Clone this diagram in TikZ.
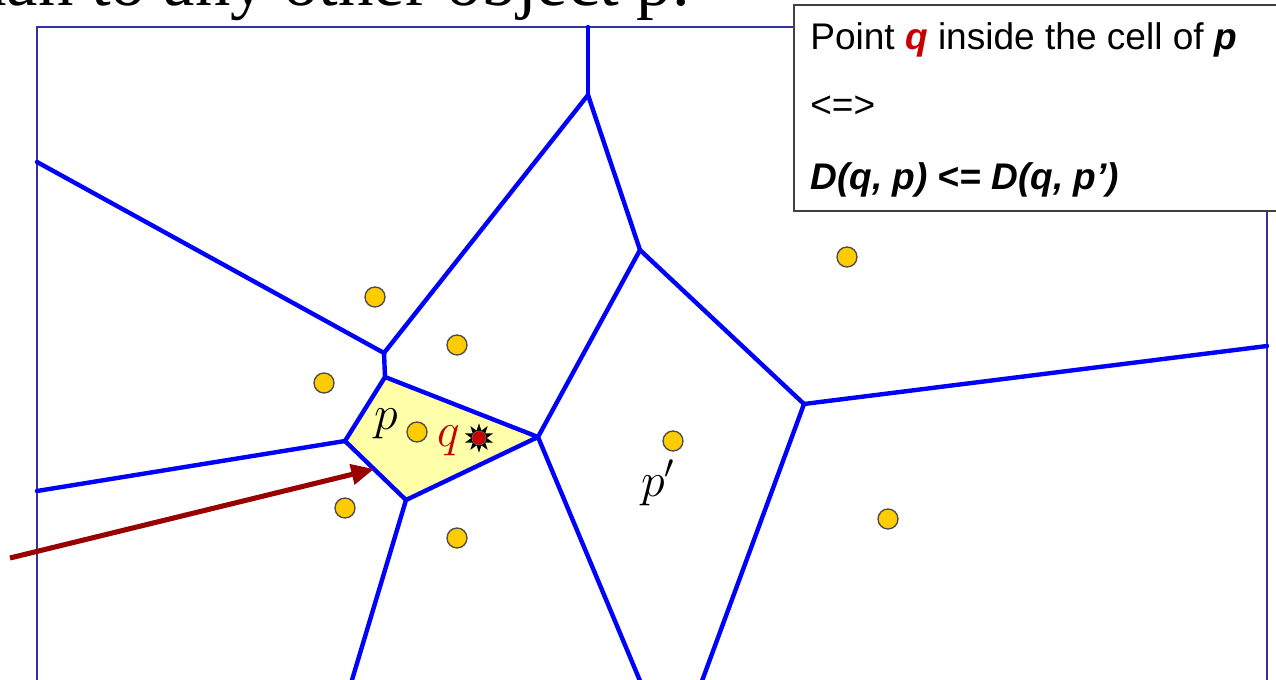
\RequirePackage{fix-cm}
\documentclass[tikz,border=0pt]{standalone}
\usepackage{fontspec}
\setmainfont{Liberation Serif}
\newfontfamily\arialfam{Liberation Sans}
\usetikzlibrary{shapes.geometric,arrows.meta}
\definecolor{vblue}{RGB}{0,0,255}
\definecolor{framecol}{RGB}{51,51,153}
\definecolor{cellyel}{RGB}{255,255,170}
\definecolor{sitefill}{RGB}{255,204,0}
\definecolor{arrowred}{RGB}{153,0,0}
\definecolor{qred}{RGB}{200,0,0}
\begin{document}
\begin{tikzpicture}[x=0.75pt,y=-0.75pt,
  vedge/.style={draw=vblue,line width=3.3pt,line join=round,line cap=round},
  site/.style={circle,fill=sitefill,draw=black!70,line width=1pt,inner sep=0pt,minimum size=15pt},
  lbl/.style={inner sep=0pt,font=\fontsize{36}{40}\selectfont},
  boxtxt/.style={anchor=base west,inner sep=0pt,font=\arialfam\fontsize{27.8}{31}\selectfont}]
\useasboundingbox (0,0) rectangle (1276,680);
\clip (0,0) rectangle (1276,680);
\fill[white] (0,0) rectangle (1276,680);
% top (cut-off) title text
\node[anchor=base east,inner sep=0pt,font=\fontsize{53}{60}\selectfont] (title) at (690,6) {than to any other object p.};
% frame
\coordinate (fbl) at (37,700);
\coordinate (ftl) at (37,27);
\coordinate (ftr) at (1267,27);
\coordinate (fbr) at (1267,700);
\draw[framecol,line width=1.5pt] (fbl) -- (ftl) -- (ftr) -- (fbr);
% Voronoi vertices
\coordinate (T) at (588,27);
\coordinate (B) at (588,95);
\coordinate (C) at (640,250);
\coordinate (D) at (384,353);
\coordinate (E) at (385,377);
\coordinate (F) at (538,437);
\coordinate (G) at (406,500);
\coordinate (H) at (345,441);
\coordinate (K) at (804,404);
\coordinate (L1) at (37,162);
\coordinate (L2) at (37,491);
\coordinate (R1) at (1267,346);
\coordinate (D1) at (346,700);
\coordinate (D2) at (648,700);
\coordinate (D3) at (695,700);
% cell of p
\fill[cellyel] (E) -- (F) -- (G) -- (H) -- cycle;
% edges
\draw[vedge] (T) -- (B);
\draw[vedge] (B) -- (C);
\draw[vedge] (B) -- (D);
\draw[vedge] (L1) -- (D);
\draw[vedge] (D) -- (E);
\draw[vedge] (E) -- (F) -- (G) -- (H) -- cycle;
\draw[vedge] (H) -- (L2);
\draw[vedge] (G) -- (D1);
\draw[vedge] (F) -- (C);
\draw[vedge] (F) -- (D2);
\draw[vedge] (C) -- (K);
\draw[vedge] (K) -- (R1);
\draw[vedge] (K) -- (D3);
% sites
\node[site] (s1) at (375,297) {};
\node[site] (s2) at (457,345) {};
\node[site] (s3) at (324,383) {};
\node[site] (sp) at (417,432) {};
\node[site] (s5) at (345,508) {};
\node[site] (s6) at (457,538) {};
\node[site] (spp) at (673,441) {};
\node[site] (s8) at (847,257) {};
\node[site] (s9) at (888,519) {};
% query point q
\node[star,star points=10,star point ratio=1.9,fill=black,inner sep=0pt,minimum size=22pt] (qstar) at (479,438) {};
\node[circle,fill=qred,draw=black!60,line width=0.5pt,inner sep=0pt,minimum size=10.5pt] (qdot) at (qstar) {};
% labels
\node[lbl] (lp) at (386,424) {$p$};
\node[lbl,text=qred] (lq) at (449,441) {$q$};
\node[lbl] (lpp) at (658,483) {$p'$};
% arrow
\coordinate (atail) at (10,558);
\coordinate (ahead) at (374,469);
\draw[arrowred,line width=3.8pt,-{Triangle[length=17pt,width=15pt]}] (atail) -- (ahead);
% text box
\node[draw=black!75,line width=1.5pt,fill=white,anchor=north west,inner sep=0pt,minimum width=375pt,minimum height=154.5pt] (box) at (793,4) {};
\node[boxtxt] (t1) at (810,50) {Point \textbf{\textit{\color{qred}q}} inside the cell of \textbf{\textit{p}}};
\node[boxtxt] (t2) at (810,118) {<=>};
\node[boxtxt] (t3) at (810,190) {\textbf{\textit{D(q, p) <= D(q, p’)}}};
\end{tikzpicture}
\end{document}
